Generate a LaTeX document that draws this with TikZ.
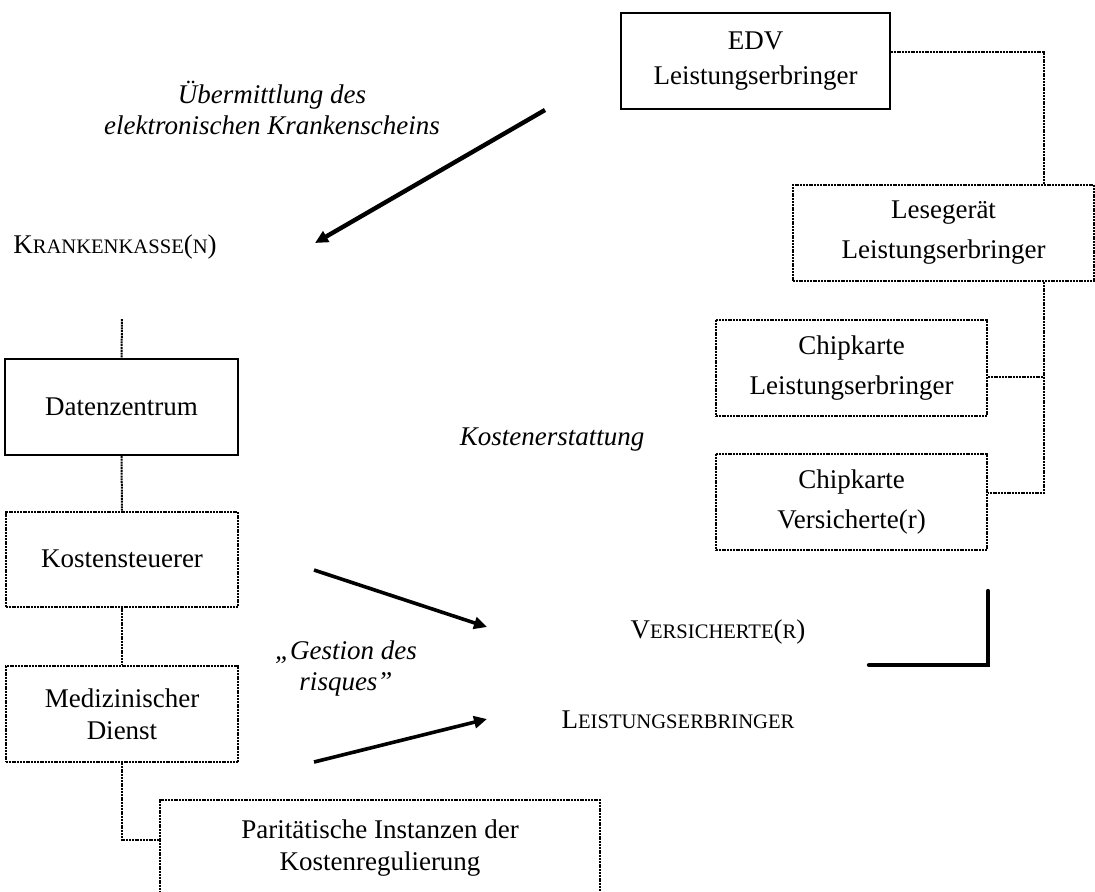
\documentclass[tikz,border=0pt]{standalone}
\usepackage{fontspec}
\setmainfont{Liberation Serif}
\usepackage{tikz}
\usetikzlibrary{calc, arrows.meta}
\newcommand{\kap}[1]{{\fontsize{10.3}{12}\selectfont #1}}
\begin{document}
\begin{tikzpicture}[x=0.5pt, y=-0.5pt,
	font=\fontsize{13.5}{16}\selectfont,
	box/.style={draw, line width=0.9pt, align=center, inner sep=0pt},
	dotbox/.style={box, line width=1pt, dash pattern=on 1pt off 0.4pt},
	link/.style={line width=1pt, dash pattern=on 1pt off 0.4pt},
	flow/.style={line width=1.8pt, -{Triangle[length=6.5pt, width=6pt]}},
	lbl/.style={font=\fontsize{13.5}{15.5}\selectfont\itshape, align=center}]
	\useasboundingbox (0,0) rectangle (1095,891);

	%Leistungserbringer
	\node[box, minimum width=134.5pt, minimum height=48pt] (edv) at (755.5,61) {EDV\\[1.5pt]Leistungserbringer};
	\node[dotbox, minimum width=150.5pt, minimum height=48pt] (lese) at (943.5,233) {Lesegerät\\[4pt]Leistungserbringer};
	\node[dotbox, minimum width=135.5pt, minimum height=48pt] (chipl) at (851.5,368) {Chipkarte\\[4pt]Leistungserbringer};
	\node[dotbox, minimum width=135.5pt, minimum height=48pt] (chipv) at (851.5,502) {Chipkarte\\[4pt]Versicherte(r)};
	\coordinate (knee) at (1044,52);
	\draw[link] ([yshift=4.5pt]edv.east) -- (knee) -- (knee |- lese.north);
	\draw[link] (lese.south -| knee) -- ([yshift=4.5pt]chipv.east -| knee) -- ([yshift=4.5pt]chipv.east);
	\draw[link] ([yshift=-4.5pt]chipl.east) -- ([yshift=-4.5pt]chipl.east -| knee);

	%Krankenkasse
	\node[anchor=base] (kasse) at (115,253) {K\kap{RANKENKASSE}(\kap{N})};
	\coordinate (kstub) at (122,319);
	\node[box, minimum width=116.5pt, minimum height=48pt] (daten) at (121.5,407) {Datenzentrum};
	\node[dotbox, minimum width=116pt, minimum height=47.5pt] (kosten) at (122,559) {Kostensteuerer};
	\node[dotbox, minimum width=116pt, minimum height=48pt] (medi) at (122,714) {Medizinischer\\Dienst};
	\node[dotbox, minimum width=220pt, minimum height=48pt] (pari) at (380,848) {Paritätische Instanzen der\\Kostenregulierung};
	\draw[link] (kstub) -- (daten.north);
	\draw[link] (daten.south) -- (kosten.north);
	\draw[link] (kosten.south) -- (medi.north);
	\draw[link] (medi.south) |- ([yshift=4pt]pari.west);

	%Beschriftungen
	\node[lbl] (ueber) at (272,108) {Übermittlung des\\elektronischen Krankenscheins};
	\node[lbl, anchor=base] (erstatt) at (552,445) {Kostenerstattung};
	\node[lbl] (gestion) at (346,668) {„Gestion des\\risques”};
	\node[anchor=base] (versich) at (718,638) {V\kap{ERSICHERTE}(\kap{R})};
	\node[anchor=base] (leist) at (678,728) {L\kap{EISTUNGSERBRINGER}};

	%Pfeile
	\coordinate (a1s) at (545,110);
	\coordinate (a1e) at (315,243);
	\coordinate (a2s) at (314,570);
	\coordinate (a2e) at (487,627);
	\coordinate (a3s) at (314,762);
	\coordinate (a3e) at (487,719);
	\draw[flow, line width=2.2pt] (a1s) -- (a1e);
	\draw[flow] (a2s) -- (a2e);
	\draw[flow] (a3s) -- (a3e);

	\coordinate (lA) at (869,665);
	\coordinate (lB) at (988,665);
	\coordinate (lC) at (988,591);
	\draw[line width=2.2pt, line cap=round] (lA) -- (lB) -- (lC);
\end{tikzpicture}
\end{document}
